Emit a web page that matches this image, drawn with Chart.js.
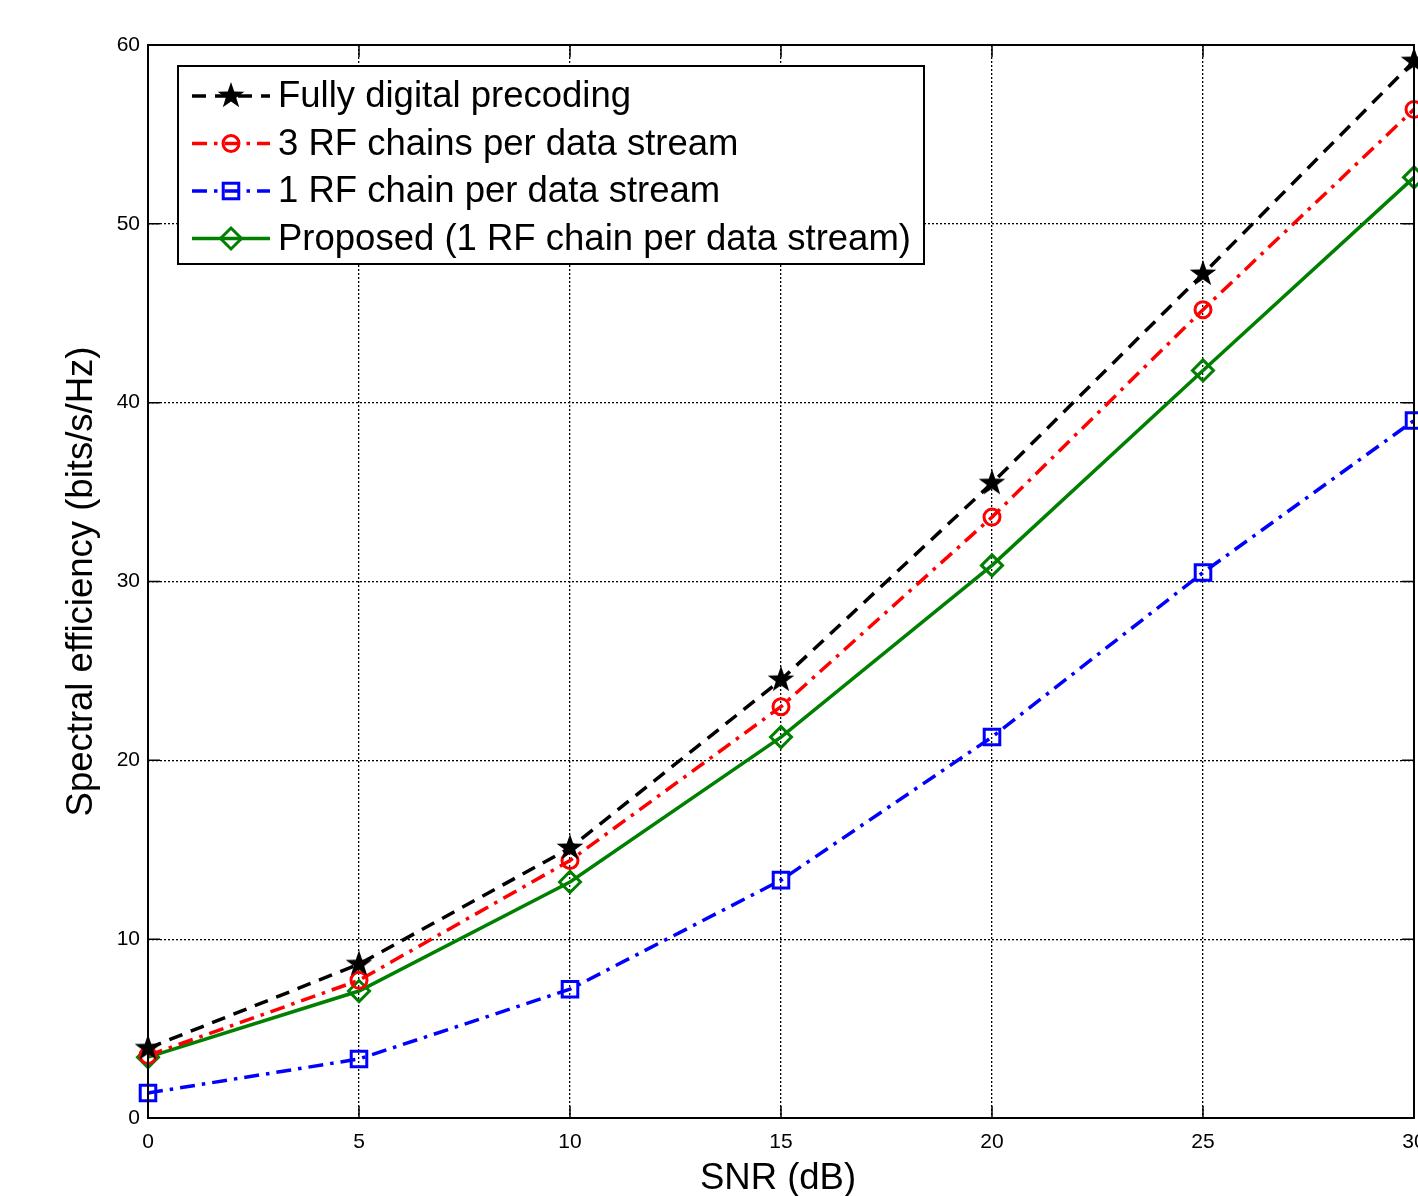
<!DOCTYPE html>
<html>
<head>
<meta charset="utf-8">
<script src="https://cdn.jsdelivr.net/npm/chart.js@4.4.1/dist/chart.umd.min.js"></script>
<style>
  html, body { margin: 0; padding: 0; background: #fff; overflow: hidden; }
  #wrap { position: absolute; left: 0; top: 0; width: 1500px; height: 1250px; }
</style>
</head>
<body>
<div id="wrap"><canvas id="myChart" width="1500" height="1250"></canvas></div>
<script>
'use strict';
// data
const snr = [0, 5, 10, 15, 20, 25, 30];
const fullyDigital = [3.9, 8.6, 15.1, 24.5, 35.5, 47.2, 59.1];
const threeRF = [3.5, 7.7, 14.4, 23.0, 33.6, 45.2, 56.4];
const oneRF = [1.4, 3.3, 7.2, 13.3, 21.3, 30.5, 39.0];
const proposed = [3.4, 7.1, 13.2, 21.3, 30.9, 41.8, 52.6];
const seriesNames = ['Fully digital precoding', '3 RF chains per data stream', '1 RF chain per data stream', 'Proposed (1 RF chain per data stream)'];
const xTicks = [0, 5, 10, 15, 20, 25, 30];
const yTicks = [0, 10, 20, 30, 40, 50, 60];
const xTitle = 'SNR (dB)';
const yTitle = 'Spectral efficiency (bits/s/Hz)';

const FONT = '"Liberation Sans", Arial, sans-serif';

// filled five point star for the black curve
function makeStar(){
  let c = document.createElement('canvas');
  c.width = 30; c.height = 30;
  let g = c.getContext('2d');
  g.fillStyle = '#000';
  g.beginPath();
  for(let i = 0; i < 10; i++){
    let r = (i % 2 === 0) ? 14 : 5.5;
    let a = -Math.PI / 2 + i * Math.PI / 5;
    let px = 15 + r * Math.cos(a);
    let py = 15 + r * Math.sin(a);
    if(i === 0) g.moveTo(px, py); else g.lineTo(px, py);
  }
  g.closePath();
  g.fill();
  return c;
}
const star = makeStar();

function pts(arr){
  return arr.map((v, i) => ({x: snr[i], y: v}));
}

const datasets = [
  {
    label: seriesNames[0], data: pts(fullyDigital),
    borderColor: '#000', borderWidth: 3.5, borderDash: [14, 9],
    pointStyle: star, pointRadius: 14, pointBackgroundColor: '#000', pointBorderColor: '#000'
  },
  {
    label: seriesNames[1], data: pts(threeRF),
    borderColor: '#ff0000', borderWidth: 3.5, borderDash: [15, 7, 3.5, 7],
    pointStyle: 'circle', pointRadius: 8, pointBorderWidth: 3,
    pointBackgroundColor: 'rgba(0,0,0,0)', pointBorderColor: '#ff0000'
  },
  {
    label: seriesNames[2], data: pts(oneRF),
    borderColor: '#0000ff', borderWidth: 3.5, borderDash: [15, 7, 3.5, 7],
    pointStyle: 'rect', pointRadius: 11, pointBorderWidth: 3,
    pointBackgroundColor: 'rgba(0,0,0,0)', pointBorderColor: '#0000ff'
  },
  {
    label: seriesNames[3], data: pts(proposed),
    borderColor: '#008000', borderWidth: 3.5,
    pointStyle: 'rectRot', pointRadius: 10.5, pointBorderWidth: 3,
    pointBackgroundColor: 'rgba(0,0,0,0)', pointBorderColor: '#008000'
  }
];

// box round the axes, inward tick marks, axis titles and the legend inside the plot
const framePlugin = {
  id: 'frame',
  afterDatasetsDraw(chart){
    let ctx = chart.ctx;
    let a = chart.chartArea;
    let xs = chart.scales.x;
    let ys = chart.scales.y;
    ctx.save();
    ctx.strokeStyle = '#000';
    ctx.lineWidth = 2;
    ctx.setLineDash([]);
    ctx.strokeRect(a.left, a.top, a.right - a.left, a.bottom - a.top);
    ctx.lineWidth = 1.5;
    ctx.beginPath();
    xTicks.forEach(t => {
      let px = xs.getPixelForValue(t);
      ctx.moveTo(px, a.bottom); ctx.lineTo(px, a.bottom - 12);
      ctx.moveTo(px, a.top); ctx.lineTo(px, a.top + 12);
    });
    yTicks.forEach(t => {
      let py = ys.getPixelForValue(t);
      ctx.moveTo(a.left, py); ctx.lineTo(a.left + 12, py);
      ctx.moveTo(a.right, py); ctx.lineTo(a.right - 12, py);
    });
    ctx.stroke();

    // axis titles
    ctx.fillStyle = '#000';
    ctx.font = '36.5px ' + FONT;
    ctx.textAlign = 'center';
    ctx.textBaseline = 'middle';
    ctx.fillText(xTitle, (a.left + a.right) / 2 - 3, 1179);
    ctx.save();
    ctx.translate(82, (a.top + a.bottom) / 2);
    ctx.rotate(-Math.PI / 2);
    ctx.fillText(yTitle, 0, 0);
    ctx.restore();

    // legend
    let lx = 178, ly = 66, lw = 746, lh = 198;
    ctx.fillStyle = '#fff';
    ctx.fillRect(lx, ly, lw, lh);
    ctx.lineWidth = 2;
    ctx.strokeStyle = '#000';
    ctx.strokeRect(lx, ly, lw, lh);
    ctx.font = '36.5px ' + FONT;
    ctx.textBaseline = 'middle';
    ctx.textAlign = 'left';
    chart.data.datasets.forEach((ds, i) => {
      let cy = 96 + i * 47.5;
      let mx = 231;
      ctx.strokeStyle = ds.borderColor;
      ctx.lineWidth = ds.borderWidth;
      ctx.setLineDash(ds.borderDash || []);
      ctx.beginPath();
      ctx.moveTo(192, cy); ctx.lineTo(270, cy);
      ctx.stroke();
      ctx.setLineDash([]);
      ctx.strokeStyle = ds.pointBorderColor;
      ctx.lineWidth = ds.pointBorderWidth || 1;
      ctx.beginPath();
      if(ds.pointStyle === 'circle'){
        ctx.arc(mx, cy, ds.pointRadius, 0, Math.PI * 2);
        ctx.stroke();
      }else if(ds.pointStyle === 'rect'){
        let s = ds.pointRadius * Math.SQRT1_2;
        ctx.strokeRect(mx - s, cy - s, 2 * s, 2 * s);
      }else if(ds.pointStyle === 'rectRot'){
        let s = ds.pointRadius;
        ctx.moveTo(mx - s, cy); ctx.lineTo(mx, cy + s); ctx.lineTo(mx + s, cy); ctx.lineTo(mx, cy - s);
        ctx.closePath();
        ctx.stroke();
      }else{
        ctx.drawImage(ds.pointStyle, mx - 15, cy - 15);
      }
      ctx.fillStyle = '#000';
      ctx.fillText(ds.label, 278, cy + 1);
    });
    ctx.restore();
  }
};

const ctx = document.getElementById('myChart').getContext('2d');
const chart = new Chart(ctx, {
  type: 'line',
  data: { datasets: datasets },
  options: {
    responsive: false,
    animation: false,
    devicePixelRatio: 1,
    layout: { padding: { top: 45, right: 86, left: 0, bottom: 0 } },
    elements: { line: { tension: 0, fill: false } },
    datasets: { line: { clip: false } },
    plugins: { legend: { display: false }, tooltip: { enabled: false }, title: { display: false } },
    scales: {
      x: {
        type: 'linear', min: 0, max: 30,
        afterBuildTicks: s => { s.ticks = xTicks.map(v => ({value: v})); },
        afterFit: s => { s.height = 132; },
        grid: { color: '#000', lineWidth: 1.3, drawTicks: false },
        border: { display: false, dash: [2, 2] },
        ticks: { color: '#000', padding: 12, font: { family: FONT, size: 21 }, maxRotation: 0 }
      },
      y: {
        type: 'linear', min: 0, max: 60,
        afterBuildTicks: s => { s.ticks = yTicks.map(v => ({value: v})); },
        afterFit: s => { s.width = 148; },
        grid: { color: '#000', lineWidth: 1.3, drawTicks: false },
        border: { display: false, dash: [2, 2] },
        ticks: { color: '#000', padding: 8, font: { family: FONT, size: 21 } }
      }
    }
  },
  plugins: [framePlugin]
});
</script>
</body>
</html>
